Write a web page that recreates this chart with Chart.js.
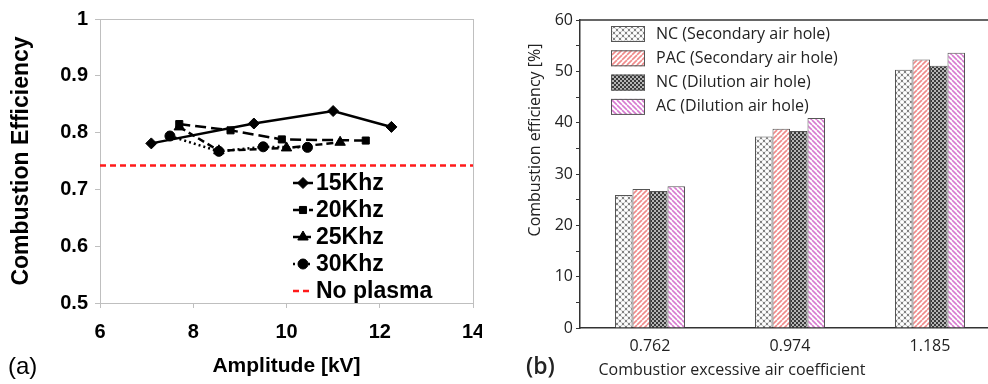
<!DOCTYPE html>
<html>
<head>
<meta charset="utf-8">
<script src="https://cdn.jsdelivr.net/npm/chart.js@4.4.1/dist/chart.umd.min.js"></script>
<style>
  html, body { margin: 0; padding: 0; background: #fff; overflow: hidden; width: 988px; height: 384px; }
  canvas { position: absolute; top: 0; }
</style>
</head>
<body>
<canvas id="chartA" width="500" height="384" style="left:0"></canvas>
<canvas id="chartB" width="538" height="384" style="left:482px"></canvas>
<script>
// (a) combustion efficiency vs amplitude, one series per frequency
const freqLabels = ["15Khz", "20Khz", "25Khz", "30Khz"];
const amp15 = [7.1, 9.3, 11.0, 12.25];
const eff15 = [0.781, 0.816, 0.838, 0.810];
const amp20 = [7.7, 8.8, 9.9, 11.7];
const eff20 = [0.815, 0.804, 0.788, 0.786];
const amp25 = [7.7, 8.55, 10.0, 11.15];
const eff25 = [0.810, 0.768, 0.773, 0.783];
const amp30 = [7.5, 8.55, 9.5, 10.45];
const eff30 = [0.794, 0.767, 0.775, 0.774];
const noPlasmaLabel = "No plasma";
const noPlasma = 0.742;
const ampRange = [6, 14];

// (b) combustion efficiency [%] per excess air coefficient
const coefLabels = ["0.762", "0.974", "1.185"];
const barLabels = ["NC (Secondary air hole)", "PAC (Secondary air hole)", "NC (Dilution air hole)", "AC (Dilution air hole)"];
const ncSec = [25.9, 37.3, 50.3];
const pacSec = [27.1, 38.8, 52.3];
const ncDil = [26.7, 38.4, 51.1];
const acDil = [27.6, 40.9, 53.6];

const fontA = '"Liberation Sans", Arial, sans-serif';
const fontB = '"Open Sans", "Noto Sans", sans-serif';

// ---------- panel (a) ----------
const ampSeries = [amp15, amp20, amp25, amp30];
const effSeries = [eff15, eff20, eff25, eff30];
const markers = ["rectRot", "rect", "triangle", "circle"];
const dashes = [[], [11, 5], [7, 4], [2, 3]];
const radii = [5.5, 5, 6, 5];

const datasetsA = freqLabels.map((name, i) => ({
  label: name,
  data: ampSeries[i].map((x, j) => ({ x: x, y: effSeries[i][j] })),
  borderColor: "#000",
  backgroundColor: "#000",
  borderWidth: 2.5,
  borderDash: dashes[i],
  pointStyle: markers[i],
  pointRadius: radii[i],
  pointBorderWidth: 1,
}));
datasetsA.push({
  label: noPlasmaLabel,
  data: ampRange.map((x) => ({ x: x, y: noPlasma })),
  borderColor: "#ff1a1a",
  backgroundColor: "#ff1a1a",
  borderWidth: 2.5,
  borderDash: [6, 4],
  pointRadius: 0,
});

const panelA = {
  id: "panelA",
  beforeDatasetsDraw(chart) {
    const { ctx, chartArea: a } = chart;
    ctx.save();
    ctx.strokeStyle = "#bfbfbf";
    ctx.lineWidth = 1;
    ctx.strokeRect(a.left + 0.5, a.top + 0.5, a.right - a.left, a.bottom - a.top);
    ctx.restore();
  },
  afterDraw(chart) {
    const ctx = chart.ctx;
    ctx.save();
    ctx.font = "bold 23px " + fontA;
    ctx.textBaseline = "middle";
    chart.data.datasets.forEach((ds, i) => {
      const y = 183 + i * 27;
      ctx.strokeStyle = ds.borderColor;
      ctx.fillStyle = ds.borderColor;
      ctx.lineWidth = ds.borderWidth;
      ctx.setLineDash(ds.borderDash);
      ctx.beginPath();
      ctx.moveTo(293, y);
      ctx.lineTo(313, y);
      ctx.stroke();
      ctx.setLineDash([]);
      if (ds.pointRadius > 0) {
        ctx.lineWidth = 1;
        Chart.helpers.drawPoint(ctx, { pointStyle: ds.pointStyle, radius: ds.pointRadius, borderWidth: 1, rotation: 0 }, 303, y);
      }
      ctx.fillStyle = "#000";
      ctx.fillText(ds.label, 316, y + 1);
    });
    ctx.font = "24px " + fontA;
    ctx.fillText("(a)", 8, 367);
    ctx.restore();
  },
};

new Chart(document.getElementById("chartA"), {
  type: "line",
  data: { datasets: datasetsA },
  options: {
    responsive: false,
    animation: false,
    devicePixelRatio: 1,
    layout: { padding: { left: 0, right: 27, top: 17, bottom: 0 } },
    plugins: { legend: { display: false }, tooltip: { enabled: false } },
    scales: {
      x: {
        type: "linear",
        min: 6,
        max: 14,
        ticks: { stepSize: 2, color: "#000", padding: 12, font: { family: fontA, size: 20, weight: "bold" } },
        grid: { drawOnChartArea: false, color: "#bfbfbf", tickLength: 5 },
        border: { color: "#bfbfbf" },
        title: {
          display: true,
          text: "Amplitude [kV]",
          color: "#000",
          font: { family: fontA, size: 21, weight: "bold" },
          padding: { top: 0, bottom: 5 },
        },
        afterFit(s) { s.height = 81; },
      },
      y: {
        min: 0.5,
        max: 1,
        ticks: {
          stepSize: 0.1,
          color: "#000",
          padding: 7,
          font: { family: fontA, size: 20, weight: "bold" },
          callback: (v) => String(+v.toFixed(1)),
        },
        grid: { drawOnChartArea: false, color: "#bfbfbf", tickLength: 5 },
        border: { color: "#bfbfbf" },
        title: {
          display: true,
          text: "Combustion Efficiency",
          color: "#000",
          font: { family: fontA, size: 23, weight: "bold" },
          padding: { top: 8, bottom: 0 },
        },
        afterFit(s) { s.width = 100; },
      },
    },
  },
  plugins: [panelA],
});

// ---------- panel (b) ----------
const ctxB = document.getElementById("chartB").getContext("2d");
function tile(size, bg, draw) {
  const c = document.createElement("canvas");
  c.width = size;
  c.height = size;
  const t = c.getContext("2d");
  t.fillStyle = bg;
  t.fillRect(0, 0, size, size);
  draw(t, size);
  return ctxB.createPattern(c, "repeat");
}
function slash(color, dir) {
  return (t, s) => {
    t.strokeStyle = color;
    t.lineWidth = 1.6;
    for (let k = -1; k <= 1; k++) {
      t.beginPath();
      if (dir > 0) { t.moveTo(k * s, s); t.lineTo(k * s + s, 0); }
      else { t.moveTo(k * s, 0); t.lineTo(k * s + s, s); }
      t.stroke();
    }
  };
}
// white holes in a grey diagonal lattice
const patCross = tile(6, "#808080", (t, s) => {
  t.fillStyle = "#fff";
  [[0, 0], [s, 0], [0, s], [s, s], [s / 2, s / 2]].forEach(([cx, cy]) => {
    t.beginPath();
    t.arc(cx, cy, 2.1, 0, Math.PI * 2);
    t.fill();
  });
});
const patPac = tile(5, "#fff", slash("#f08a8a", 1));
const patChecker = tile(4, "#b5b5b5", (t) => {
  t.fillStyle = "#3a3a3a";
  t.fillRect(0, 0, 2, 2);
  t.fillRect(2, 2, 2, 2);
});
const patAc = tile(5, "#fff", slash("#d77ad0", -1));

const barSeries = [ncSec, pacSec, ncDil, acDil];
const barFills = [patCross, patPac, patChecker, patAc];
const datasetsB = barLabels.map((name, i) => ({
  label: name,
  data: barSeries[i],
  backgroundColor: barFills[i],
  borderColor: "#555",
  borderWidth: 1,
}));

const panelB = {
  id: "panelB",
  beforeDraw(chart) {
    const ctx = chart.ctx;
    ctx.save();
    ctx.fillStyle = "#fff";
    ctx.fillRect(0, 0, chart.width, chart.height);
    ctx.restore();
  },
  afterDraw(chart) {
    const { ctx, chartArea: a } = chart;
    ctx.save();
    ctx.strokeStyle = "#333";
    ctx.lineWidth = 1.5;
    ctx.beginPath();
    ctx.moveTo(a.left, a.top);
    ctx.lineTo(a.right, a.top);
    ctx.stroke();

    ctx.font = "16px " + fontB;
    ctx.textBaseline = "middle";
    chart.data.datasets.forEach((ds, i) => {
      const y = 34 + i * 24.3;
      ctx.fillStyle = ds.backgroundColor;
      ctx.fillRect(129, y - 8, 34, 16);
      ctx.strokeStyle = "#555";
      ctx.lineWidth = 1;
      ctx.strokeRect(129.5, y - 7.5, 33, 15);
      ctx.fillStyle = "#222";
      ctx.fillText(ds.label, 174, y);
    });

    ctx.textAlign = "center";
    ctx.fillText("Combustior excessive air coefficient", 250, 370);
    ctx.save();
    ctx.translate(53, 140);
    ctx.rotate(-Math.PI / 2);
    ctx.fillText("Combustion efficiency [%]", 0, 0);
    ctx.restore();

    ctx.textAlign = "left";
    ctx.font = "600 23px " + fontB;
    ctx.fillText("(b)", 44, 367);
    ctx.restore();
  },
};

new Chart(ctxB, {
  type: "bar",
  data: { labels: coefLabels, datasets: datasetsB },
  options: {
    responsive: false,
    animation: false,
    devicePixelRatio: 1,
    categoryPercentage: 0.5,
    barPercentage: 1,
    layout: { padding: { left: 0, right: 20, top: 20, bottom: 0 } },
    plugins: { legend: { display: false }, tooltip: { enabled: false } },
    scales: {
      x: {
        grid: { display: false, drawTicks: false },
        border: { color: "#333", width: 1.5 },
        ticks: { color: "#222", padding: 9, font: { family: fontB, size: 16 } },
        afterFit(s) { s.height = 56; },
      },
      y: {
        min: 0,
        max: 60,
        ticks: {
          stepSize: 5,
          autoSkip: false,
          color: "#222",
          padding: 3,
          font: { family: fontB, size: 16 },
          callback: (v) => (v % 10 === 0 ? String(v) : ""),
        },
        grid: { drawOnChartArea: false, color: "#333", tickLength: 4 },
        border: { color: "#333", width: 1.5 },
        afterFit(s) { s.width = 98; },
      },
    },
  },
  plugins: [panelB],
});
</script>
</body>
</html>
